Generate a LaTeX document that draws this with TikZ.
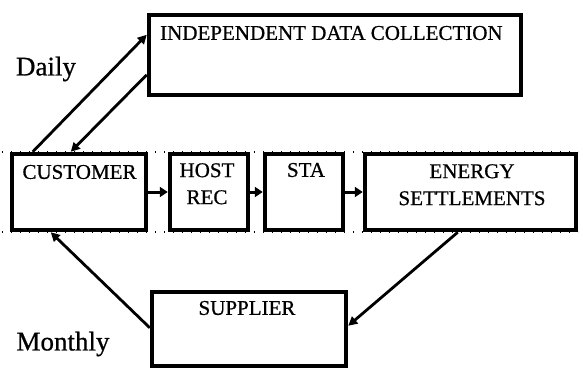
\documentclass[tikz,border=0pt]{standalone}
\usepackage{fontspec}
\setmainfont{Liberation Serif}
\newfontfamily\scanfont{Liberation Serif}[FakeBold=0.7]
\usepackage{tikz}
\usetikzlibrary{arrows.meta, positioning}

\tikzset{
  box/.style={draw, fill=white, line width=4.5pt, rectangle, inner sep=0pt},
  boxtext/.style={font=\scanfont\fontsize{21}{27}\selectfont, align=center, inner sep=0pt},
  period/.style={font=\scanfont\fontsize{27}{30}\selectfont, inner sep=0pt},
  flow/.style={line width=2.8pt, -{Triangle[length=9pt, width=9pt]}},
  link/.style={line width=3pt, -{Triangle[length=8pt, width=10pt]}}
}

\begin{document}
\begin{tikzpicture}[x=1pt, y=1pt]
\useasboundingbox (0,0) rectangle (580,-368);

% Dotted guide lines along the middle row
\draw[line width=1.2pt, dash pattern=on 1pt off 8pt] (2,-152) -- (578,-152);
\draw[line width=1.2pt, dash pattern=on 1pt off 8pt] (2,-232) -- (578,-232);

% Independent Data Collection
\node[box, minimum width=372pt, minimum height=80pt] (idc) at (335,-55) {};
\node[boxtext, anchor=west] (idctext) at (160,-33) {INDEPENDENT DATA COLLECTION};

% Middle row
\node[box, minimum width=134pt, minimum height=76pt] (cust) at (79,-192) {};
\node[boxtext] (custtext) at (79.5,-172) {CUSTOMER};

\node[box, minimum width=78pt, minimum height=76pt] (host) at (209,-192) {};
\node[boxtext, anchor=north] (hosttext) at (207,-163) {HOST\\REC};

\node[box, minimum width=78pt, minimum height=76pt] (sta) at (304,-192) {};
\node[boxtext] (statext) at (306,-170) {STA};

\node[box, minimum width=211pt, minimum height=76pt] (energy) at (470.5,-192) {};
\node[boxtext, anchor=north] (energytext) at (472,-164) {ENERGY\\SETTLEMENTS};

% Supplier
\node[box, minimum width=194pt, minimum height=74pt] (sup) at (249,-329) {};
\node[boxtext] (suptext) at (247,-308) {SUPPLIER};

% Periods
\node[period] (daily) at (46,-69) {Daily};
\node[period] (monthly) at (63,-344) {Monthly};

% Row connectors
\draw[link] (cust.east) -- (host.west);
\draw[link] (host.east) -- (sta.west);
\draw[link] (sta.east) -- (energy.west);

% Daily loop
\draw[flow] ([xshift=23pt]cust.north west) -- ([yshift=-22pt]idc.north west);
\draw[flow] ([yshift=-62pt]idc.north west) -- ([xshift=61pt]cust.north west);

% Monthly loop
\draw[flow] ([xshift=95pt]energy.south west) -- ([yshift=-36pt]sup.north east);
\draw[flow] ([yshift=-38pt]sup.north west) -- ([xshift=41pt]cust.south west);
\end{tikzpicture}
\end{document}
